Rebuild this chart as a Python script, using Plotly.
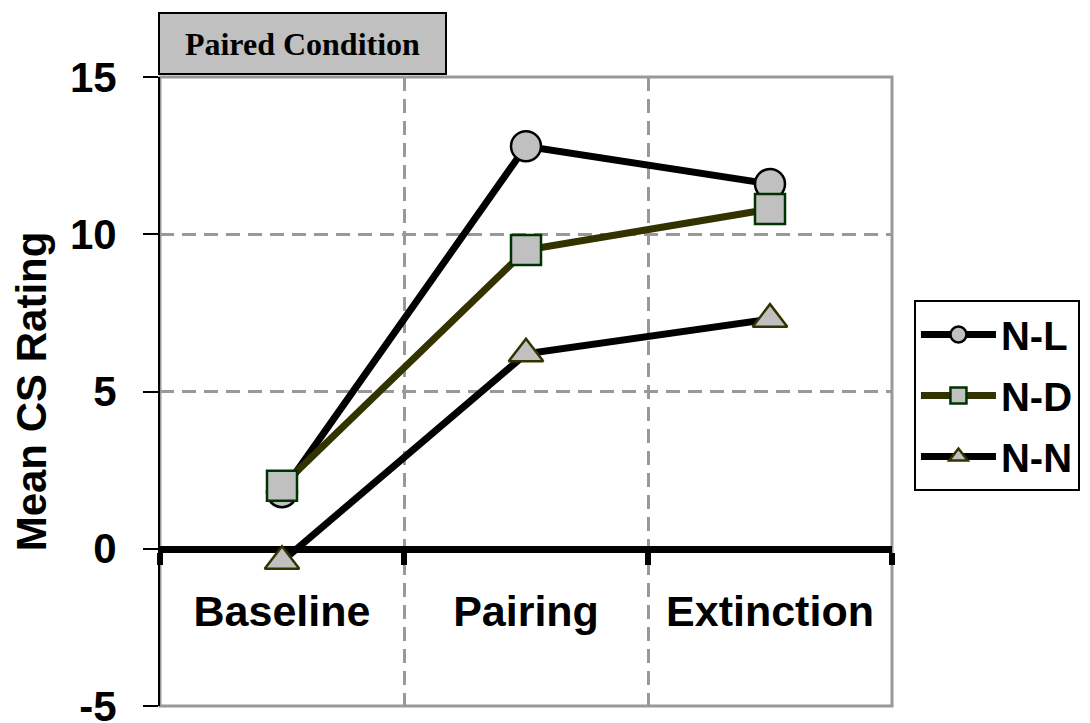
import plotly.graph_objects as go

categories = ["Baseline", "Pairing", "Extinction"]
series_names = ["N-L", "N-D", "N-N"]
nl_values = [1.8, 12.8, 11.6]
nd_values = [2.0, 9.5, 10.8]
nn_values = [-0.4, 6.2, 7.3]
y_ticks = [-5, 0, 5, 10, 15]
y_tick_labels = [str(v) for v in y_ticks]
title_text = "Paired Condition"
y_title = "Mean CS Rating"

AR = "Liberation Sans, Arial, sans-serif"
TR = "Liberation Serif, Times New Roman, serif"
GRID = "#999999"

styles = [
    dict(line_color="#000000", symbol="circle", mline="#000000"),
    dict(line_color="#333300", symbol="square", mline="#003300"),
    dict(line_color="#000000", symbol="triangle-up", mline="#333300"),
]

fig = go.Figure()
for name, vals, st in zip(series_names, [nl_values, nd_values, nn_values], styles):
    fig.add_trace(go.Scatter(
        x=categories, y=vals, name=name, mode="lines+markers",
        legendgroup=name,
        line=dict(color=st["line_color"], width=7),
        marker=dict(symbol=st["symbol"], size=30, color="#C0C0C0",
                    line=dict(color=st["mline"], width=2.5)),
        cliponaxis=False,
    ))

# page body has an 8px default margin, so the margins are offset by 8px
fig.update_layout(
    width=1090, height=723,
    margin=dict(l=152, r=206, t=69, b=25, autoexpand=False),
    paper_bgcolor="white", plot_bgcolor="white",
    showlegend=True,
    legend=dict(
        x=1.03, xanchor="left", y=0.6455, yanchor="top",
        bgcolor="white", bordercolor="#000000", borderwidth=2,
        font=dict(family=AR, size=40, color="#000000", weight="bold"),
        itemwidth=75, tracegroupgap=6, traceorder="grouped",
    ),
    xaxis=dict(
        type="category", range=[-0.5, 2.5],
        anchor="free", position=0.25, automargin=False,
        showline=True, linecolor="#000000", linewidth=7,
        ticks="outside", ticklen=12, tickwidth=6, tickcolor="#000000",
        tickson="boundaries",
        showgrid=True, gridcolor=GRID, gridwidth=3, griddash="14px,8px",
        tickfont=dict(family=AR, size=43, color="#000000", weight="bold"),
        ticklabelstandoff=22,
        layer="below traces",
    ),
    yaxis=dict(
        range=[-5, 15], tickvals=y_ticks, ticktext=y_tick_labels, automargin=False,
        showline=True, linecolor="#000000", linewidth=2,
        ticks="outside", ticklen=15, tickwidth=2, tickcolor="#000000",
        showgrid=True, gridcolor=GRID, gridwidth=3, griddash="14px,8px",
        zeroline=False,
        tickfont=dict(family=AR, size=42, color="#000000", weight="bold"),
        ticklabelstandoff=18, ticklabeloverflow="allow",
        title=dict(text=y_title, font=dict(family=AR, size=42, color="#000000", weight="bold"),
                   standoff=14),
        layer="below traces",
    ),
    shapes=[dict(type="rect", xref="paper", yref="paper", x0=0, x1=1, y0=0, y1=1,
                 line=dict(color=GRID, width=3), layer="below")],
    annotations=[dict(
        text="<b>" + title_text + "</b>", xref="paper", yref="paper",
        x=-0.003, xanchor="left", y=1.0, yanchor="bottom", yshift=2,
        showarrow=False, width=281, height=55, align="center", valign="middle",
        bgcolor="#C0C0C0", bordercolor="#000000", borderwidth=2, borderpad=2,
        font=dict(family=TR, size=32, color="#000000"),
    )],
)

fig.write_html("out.html")
